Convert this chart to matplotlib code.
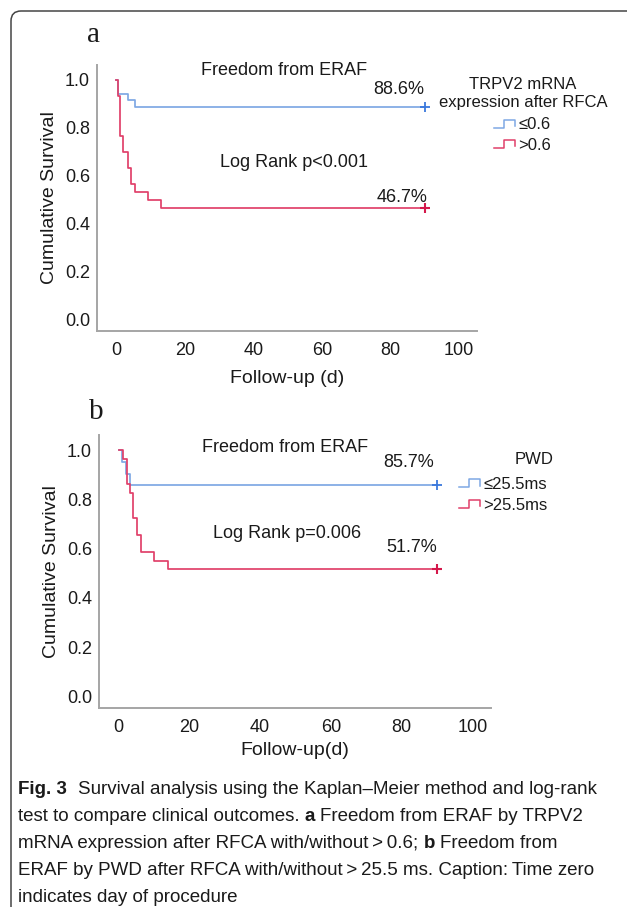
import numpy as np
import matplotlib
matplotlib.use("Agg")
import matplotlib.pyplot as plt
from matplotlib.lines import Line2D
from matplotlib.path import Path
from matplotlib.patches import PathPatch
from matplotlib.legend_handler import HandlerBase

plt.rcParams['font.family'] = ['Liberation Sans', 'DejaVu Sans']

# ---- data ----
# panel a: TRPV2 mRNA expression after RFCA
a_low_t = [0, 0.5, 3.4, 5.5, 90]
a_low_s = [1.0, 0.943, 0.914, 0.886, 0.886]
a_high_t = [0, 0.5, 1.2, 2.1, 3.4, 4.3, 5.4, 9.4, 13.2, 90]
a_high_s = [1.0, 0.933, 0.767, 0.700, 0.633, 0.567, 0.533, 0.500, 0.467, 0.467]
a_labels = ['\u22640.6', '>0.6']
a_pct = ['88.6%', '46.7%']
a_p = 'Log Rank p<0.001'
a_legend_title = 'TRPV2 mRNA\nexpression after RFCA'

# panel b: PWD
b_low_t = [0, 0.9, 2.0, 3.1, 90]
b_low_s = [1.0, 0.952, 0.905, 0.857, 0.857]
b_high_t = [0, 1.3, 2.2, 3.1, 4.1, 5.1, 6.2, 10.0, 14.0, 90]
b_high_s = [1.0, 0.966, 0.862, 0.828, 0.724, 0.655, 0.586, 0.552, 0.517, 0.517]
b_labels = ['\u226425.5ms', '>25.5ms']
b_pct = ['85.7%', '51.7%']
b_p = 'Log Rank p=0.006'
b_legend_title = 'PWD'

x_ticks = [0, 20, 40, 60, 80, 100]
y_ticks = [0.0, 0.2, 0.4, 0.6, 0.8, 1.0]

caption = [
    [('Fig. 3', 'bold'), ('Survival analysis using the Kaplan\u2013Meier method and log-rank', 'normal')],
    [('test to compare clinical outcomes.', 'normal'), ('a', 'bold'), ('Freedom from ERAF by TRPV2', 'normal')],
    [('mRNA expression after RFCA with/without\u2009>\u20090.6;', 'normal'), ('b', 'bold'), ('Freedom from', 'normal')],
    [('ERAF by PWD after RFCA with/without\u2009>\u200925.5 ms. Caption:\u2009Time zero', 'normal')],
    [('indicates day of procedure', 'normal')],
]

BLUE = '#7ea8e4'
RED = '#e0406a'
BLUE_M = '#3a78dc'
RED_M = '#d4184b'
TXT = '#1a1a1a'

W, H = 627, 907
fig = plt.figure(figsize=(W / 100, H / 100), dpi=100)


def px_box(l, t, r, b):
    return [l / W, 1 - b / H, (r - l) / W, (b - t) / H]


class StepHandler(HandlerBase):
    def create_artists(self, legend, orig_handle, xdescent, ydescent,
                       width, height, fontsize, trans):
        xs = np.array([0, 0.45, 0.45, 0.95, 0.95]) * width - xdescent
        ys = np.array([0.15, 0.15, 0.85, 0.85, 0.3]) * height - ydescent
        ln = Line2D(xs, ys, color=orig_handle.get_color(), lw=1.1, transform=trans)
        return [ln]


def panel(box, low_t, low_s, high_t, high_s, labels, pct, ptxt, xlabel, xlabelpad,
          title, title_xy, leg_xy, txt_pos):
    ax = fig.add_axes(px_box(*box))
    l1, = ax.step(low_t, low_s, where='post', color=BLUE, lw=1.25)
    l2, = ax.step(high_t, high_s, where='post', color=RED, lw=1.25)
    ax.plot(low_t[-1], low_s[-1], marker='+', color=BLUE_M, ms=7, mew=1.3)
    ax.plot(high_t[-1], high_s[-1], marker='+', color=RED_M, ms=7, mew=1.5)
    ax.set_xlim(-5.6, 105.3)
    ax.set_ylim(-0.047, 1.062)
    ax.set_xticks(x_ticks)
    ax.set_yticks(y_ticks)
    ax.set_yticklabels(['%.1f' % v for v in y_ticks])
    ax.tick_params(length=0, labelsize=13, colors=TXT)
    ax.tick_params(axis='y', pad=5)
    ax.tick_params(axis='x', pad=8)
    for s in ('top', 'right'):
        ax.spines[s].set_visible(False)
    for s in ('left', 'bottom'):
        ax.spines[s].set_color('#a5a5a5')
        ax.spines[s].set_linewidth(1.4)
    ax.set_ylabel('Cumulative Survival', fontsize=14, color=TXT, labelpad=5)
    ax.set_xlabel(xlabel, fontsize=14, color=TXT, labelpad=xlabelpad)

    (fx, fy), (px1, py1), (lx, ly), (px2, py2) = txt_pos
    ax.text(fx, fy, 'Freedom from ERAF', fontsize=13, color=TXT, ha='center', va='center')
    ax.text(px1, py1, pct[0], fontsize=13, color=TXT, ha='center', va='center')
    ax.text(lx, ly, ptxt, fontsize=13, color=TXT, ha='center', va='center')
    ax.text(px2, py2, pct[1], fontsize=13, color=TXT, ha='center', va='center')

    fig.text(title_xy[0] / W, 1 - title_xy[1] / H, title, fontsize=12, color=TXT,
             ha='center', va='center', linespacing=1.25)
    leg = ax.legend([l1, l2], labels, handler_map={Line2D: StepHandler()},
                    loc='upper left', bbox_to_anchor=(leg_xy[0] / W, 1 - leg_xy[1] / H),
                    bbox_transform=fig.transFigure, frameon=False, fontsize=12,
                    borderpad=0, borderaxespad=0, handlelength=1.3, handletextpad=0.15,
                    labelspacing=0.33)
    for t in leg.get_texts():
        t.set_color(TXT)
    return ax


panel((97, 65, 477, 331), a_low_t, a_low_s, a_high_t, a_high_s, a_labels, a_pct, a_p,
      'Follow-up (d)', 8, a_legend_title, (523, 93.5), (494, 117.5),
      [(49, 1.04), (82.5, 0.96), (52, 0.655), (83.3, 0.51)])
panel((99, 435, 491, 708), b_low_t, b_low_s, b_high_t, b_high_s, b_labels, b_pct, b_p,
      'Follow-up(d)', 4.5, b_legend_title, (534, 459), (459, 477),
      [(47, 1.012), (82, 0.951), (47.5, 0.663), (83, 0.606)])

# panel letters
fig.text(93 / W, 1 - 35 / H, 'a', family='Liberation Serif', fontsize=21, color=TXT,
         ha='center', va='center')
fig.text(96 / W, 1 - 412 / H, 'b', family='Liberation Serif', fontsize=21, color=TXT,
         ha='center', va='center')

# rounded frame on left and top
r = 10
verts = [(11, H), (11, 11 + r), (11, 11), (11 + r, 11), (W, 11)]
codes = [Path.MOVETO, Path.LINETO, Path.CURVE3, Path.CURVE3, Path.LINETO]
verts = [(x / W, 1 - y / H) for x, y in verts]
fig.add_artist(PathPatch(Path(verts, codes), transform=fig.transFigure,
                         fill=False, edgecolor='#454545', lw=1.1))

# caption with bold parts
cap_fam = ['Liberation Sans', 'DejaVu Sans']
cap_size = 13.5
renderer = fig.canvas.get_renderer()


def text_w(s, weight):
    t = fig.text(0, 0, s, fontsize=cap_size, fontweight=weight, family=cap_fam)
    w = t.get_window_extent(renderer).width
    t.remove()
    return w


space_w = text_w('x x', 'normal') - text_w('xx', 'normal')
baseline = 794
for parts in caption:
    x = 18
    for i, (s, wgt) in enumerate(parts):
        if i > 0:
            x += space_w * (2.2 if parts[0][0] == 'Fig. 3' else 1.0)
        t = fig.text(x / W, 1 - baseline / H, s, fontsize=cap_size, fontweight=wgt,
                     family=cap_fam, color=TXT, ha='left', va='baseline')
        x += t.get_window_extent(renderer).width
    baseline += 27

fig.savefig('out.png', dpi=100, facecolor='white')
